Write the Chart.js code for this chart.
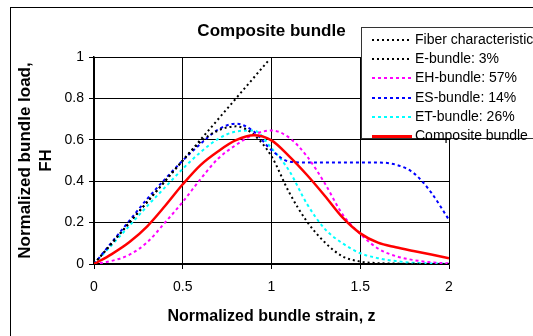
<!DOCTYPE html>
<html>
<head>
<meta charset="utf-8">
<script src="https://cdn.jsdelivr.net/npm/chart.js@4.4.1/dist/chart.umd.min.js"></script>
<style>
    html, body { margin: 0; padding: 0; background: #fff; overflow: hidden; }
    #wrap { position: relative; width: 533px; height: 336px; overflow: hidden; }
    #bundleChart { position: absolute; left: 0; top: 0; }
    #frame { position: absolute; left: 10px; top: 7px; width: 600px; height: 400px; border: 1px solid #000; }
    #legend { position: absolute; left: 361px; top: 27px; width: 220px; height: 110px; background: #fff;
              border: 1px solid #333; font: 14px "Liberation Sans", Arial, sans-serif; color: #000; }
    .row { position: absolute; left: 0; height: 19px; line-height: 19px; white-space: nowrap; }
    .swatch { position: absolute; left: 10px; top: 9px; width: 40px; height: 2px; }
    .label { position: absolute; left: 53px; top: 0; }
</style>
</head>
<body>
<div id="wrap">
    <div id="frame"></div>
    <canvas id="bundleChart" width="533" height="336"></canvas>
    <div id="legend"></div>
</div>
<script>
// 横轴 z（归一化应变）
const zValues = [0, 0.1, 0.2, 0.3, 0.4, 0.5, 0.6, 0.7, 0.8, 0.9, 1.0,
                 1.1, 1.2, 1.3, 1.4, 1.5, 1.6, 1.7, 1.8, 1.9, 2.0];

// 纤维特性（直线）
const fiberZ = [0, 0.98];
const fiberLoad = [0, 0.98];

// 各束的归一化载荷
const eBundle = [0, 0.1, 0.2, 0.3, 0.4, 0.5, 0.59, 0.645, 0.665, 0.625, 0.52,
                 0.345, 0.205, 0.105, 0.037, 0.012, 0.004, 0.002, 0.001, 0, 0];
const ehBundle = [0, 0.015, 0.045, 0.105, 0.2, 0.3, 0.41, 0.51, 0.575, 0.625, 0.645,
                  0.61, 0.52, 0.39, 0.24, 0.145, 0.075, 0.038, 0.019, 0.008, 0.003];
const esBundle = [0, 0.105, 0.21, 0.315, 0.41, 0.5, 0.58, 0.65, 0.678, 0.64, 0.55,
                  0.495, 0.49, 0.49, 0.49, 0.49, 0.49, 0.48, 0.44, 0.345, 0.213];
const etBundle = [0, 0.092, 0.185, 0.28, 0.37, 0.46, 0.54, 0.605, 0.64, 0.645, 0.56,
                  0.45, 0.29, 0.17, 0.1, 0.052, 0.028, 0.014, 0.006, 0.003, 0.001];
const composite = [0, 0.048, 0.106, 0.182, 0.28, 0.385, 0.478, 0.545, 0.598, 0.622, 0.597,
                   0.52, 0.43, 0.33, 0.225, 0.148, 0.103, 0.081, 0.063, 0.046, 0.028];

const seriesNames = ['Fiber characteristic', 'E-bundle: 3%', 'EH-bundle: 57%',
                     'ES-bundle: 14%', 'ET-bundle: 26%', 'Composite bundle'];
const seriesColors = ['#000000', '#000000', '#ff00ff', '#0000ff', '#00ffff', '#ff0000'];

const xTicks = [0, 0.5, 1, 1.5, 2];
const yTicks = [0, 0.2, 0.4, 0.6, 0.8, 1];

const FONT = '"Liberation Sans", Arial, sans-serif';

function toPoints(xs, ys) {
    return xs.map((x, i) => ({ x: x, y: ys[i] }));
}

const seriesData = [
    toPoints(fiberZ, fiberLoad),
    toPoints(zValues, eBundle),
    toPoints(zValues, ehBundle),
    toPoints(zValues, esBundle),
    toPoints(zValues, etBundle),
    toPoints(zValues, composite)
];

const datasets = seriesData.map((pts, i) => {
    const solid = i === 5;
    const black = i < 2;
    return {
        label: seriesNames[i],
        data: pts,
        borderColor: seriesColors[i],
        borderWidth: solid ? 2.5 : 2,
        borderDash: solid ? [] : (black ? [2, 3] : [3, 3]),
        pointRadius: 0,
        fill: false,
        cubicInterpolationMode: 'monotone',
        order: solid ? 0 : 1
    };
});

// 图例（HTML）
const legend = document.getElementById('legend');
seriesNames.forEach((name, i) => {
    const row = document.createElement('div');
    row.className = 'row';
    row.style.top = (2 + i * 19.2) + 'px';
    const sw = document.createElement('div');
    sw.className = 'swatch';
    if (i === 5) {
        sw.style.background = seriesColors[i];
        sw.style.height = '3px';
    } else {
        const dash = i < 2 ? '2px, transparent 2px 5px' : '3px, transparent 3px 6px';
        sw.style.background = `repeating-linear-gradient(90deg, ${seriesColors[i]} 0 ${dash})`;
    }
    const lb = document.createElement('div');
    lb.className = 'label';
    lb.textContent = name;
    row.appendChild(sw);
    row.appendChild(lb);
    legend.appendChild(row);
});

const ctx = document.getElementById('bundleChart').getContext('2d');
const bundleChart = new Chart(ctx, {
    type: 'line',
    data: { datasets: datasets },
    options: {
        responsive: false,
        animation: false,
        devicePixelRatio: 1,
        layout: { padding: { left: 10, right: 84, top: 10, bottom: 10 } },
        plugins: {
            legend: { display: false },
            tooltip: { enabled: false },
            title: {
                display: true,
                text: 'Composite bundle',
                color: '#000',
                fullSize: false,
                font: { family: FONT, size: 17, weight: 'bold', lineHeight: 1.2 },
                padding: { top: 11.3, bottom: 15.3 }
            }
        },
        scales: {
            x: {
                type: 'linear',
                min: 0,
                max: 2,
                afterBuildTicks: (scale) => { scale.ticks = xTicks.map(v => ({ value: v })); },
                afterFit: (scale) => { scale.height = 62; },
                ticks: { color: '#000', padding: 10, font: { family: FONT, size: 14 },
                         callback: (v) => String(v) },
                grid: { color: '#000', lineWidth: 1, tickLength: 5 },
                border: { color: '#000', width: 1.5 },
                title: {
                    display: true,
                    text: 'Normalized bundle strain, z',
                    color: '#000',
                    font: { family: FONT, size: 16, weight: 'bold', lineHeight: 1.2 },
                    padding: { top: 0, bottom: 0 }
                }
            },
            y: {
                type: 'linear',
                min: 0,
                max: 1,
                afterBuildTicks: (scale) => { scale.ticks = yTicks.map(v => ({ value: v })); },
                afterFit: (scale) => { scale.width = 84; },
                ticks: { color: '#000', padding: 5, font: { family: FONT, size: 14 },
                         callback: (v) => String(v) },
                grid: { color: '#000', lineWidth: 1, tickLength: 5 },
                border: { color: '#000', width: 1.5 },
                title: {
                    display: true,
                    text: ['Normalized bundle load,', 'FH'],
                    color: '#000',
                    font: { family: FONT, size: 17, weight: 'bold', lineHeight: 1.23 },
                    padding: { top: 5, bottom: 0 }
                }
            }
        }
    }
});
</script>
</body>
</html>
